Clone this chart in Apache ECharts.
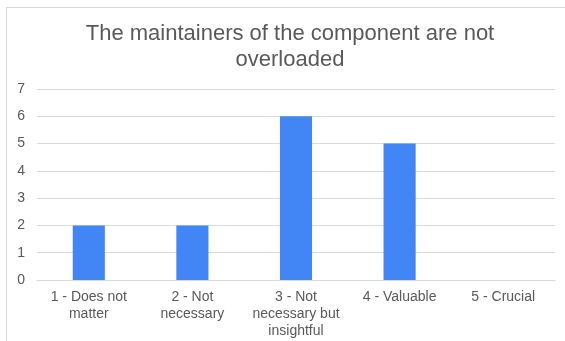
<!DOCTYPE html>
<html>
<head>
<meta charset="utf-8">
<script src="https://cdn.jsdelivr.net/npm/echarts@6/dist/echarts.min.js"></script>
<style>
  html, body { margin: 0; padding: 0; background: #fff; }
  #frame { position: absolute; left: 6px; top: 7px; width: 559px; height: 334px;
           border-left: 1px solid #d9d9d9; border-top: 1px solid #d9d9d9; box-sizing: border-box; }
  #chart { position: absolute; left: 0; top: 0; width: 565px; height: 341px; }
</style>
</head>
<body>
<div id="frame"></div>
<div id="chart"></div>
<script>
// Survey answers for one statement
const titleText = 'The maintainers of the component are not\noverloaded';
const categories = ['1 - Does not\nmatter', '2 - Not\nnecessary', '3 - Not\nnecessary but\ninsightful', '4 - Valuable', '5 - Crucial'];
const counts = [2, 2, 6, 5, 0];
const yMax = 7;

const chart = echarts.init(document.getElementById('chart'), null, { renderer: 'canvas' });
const textColor = '#595959';
const font = 'Liberation Sans, Arial, sans-serif';

chart.setOption({
  animation: false,
  title: {
    text: titleText,
    left: 285,
    textAlign: 'center',
    top: 16,
    textStyle: { fontFamily: font, fontSize: 22, fontWeight: 'normal', color: textColor, lineHeight: 26 }
  },
  grid: { left: 37, right: 10, top: 89, bottom: 61 },
  xAxis: {
    type: 'category',
    data: categories,
    axisLine: { lineStyle: { color: '#d9d9d9' } },
    axisTick: { show: false },
    axisLabel: { color: textColor, fontFamily: font, fontSize: 14, lineHeight: 17, margin: 9, interval: 0 }
  },
  yAxis: {
    type: 'value',
    min: 0, max: yMax, interval: 1,
    axisLine: { show: false },
    axisTick: { show: false },
    splitLine: { lineStyle: { color: '#d9d9d9' } },
    axisLabel: { color: textColor, fontFamily: font, fontSize: 14, margin: 12 }
  },
  series: [{
    type: 'bar',
    data: counts,
    barWidth: '31%',
    itemStyle: { color: '#4285f4' }
  }]
});
</script>
</body>
</html>
